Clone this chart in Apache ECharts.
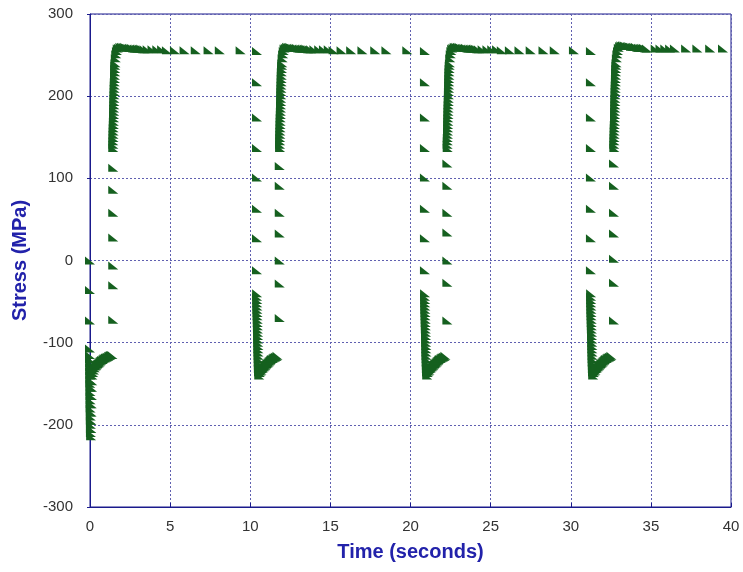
<!DOCTYPE html>
<html>
<head>
<meta charset="utf-8">
<script src="https://cdn.jsdelivr.net/npm/echarts@6/dist/echarts.min.js"></script>
<style>html,body{margin:0;padding:0;background:#fff}#c{width:743px;height:572px}</style>
</head>
<body>
<div id="c"></div>
<script>
// Data: [time (s), stress (MPa)]
const cycle1 = [
  [0,0],[0,-36],[0,-73],[0,-107],
  [0.0,-115],[0.0,-120],[0.01,-125],[0.01,-130],[0.01,-135],[0.02,-140],[0.02,-145],[0.02,-150],[0.03,-155],[0.03,-160],[0.03,-165],[0.04,-170],[0.04,-175],[0.04,-180],[0.05,-185],[0.05,-190],[0.05,-195],[0.06,-200],[0.06,-205],[0.06,-210],[0.07,-214],
  [0.08,-205],[0.09,-195],[0.1,-185],[0.11,-175],[0.12,-165],[0.13,-155],[0.14,-147],
  [0.15,-140],[0.2,-137],[0.25,-134],[0.3,-131],[0.35,-129],[0.4,-128],[0.45,-127],[0.5,-126],[0.55,-125],[0.6,-124],[0.65,-123],[0.7,-122],[0.75,-121],[0.8,-121],[0.85,-120],[0.9,-119],[0.95,-119],[1.0,-118],[1.05,-118],[1.1,-117],[1.15,-117],[1.2,-116],[1.25,-116],[1.3,-115],[1.35,-115],[1.4,-115],
  [1.45,-72],[1.45,-30],[1.45,-6],[1.45,28],[1.45,58],[1.45,86],[1.45,113],
  [1.45,137],[1.46,141],[1.46,145],[1.47,149],[1.47,153],[1.48,157],[1.48,161],[1.49,165],[1.49,169],[1.5,173],[1.5,177],[1.51,181],[1.51,185],[1.52,189],[1.52,193],[1.53,197],[1.53,201],[1.54,205],[1.54,209],[1.55,213],[1.55,217],[1.56,221],[1.56,225],[1.57,229],[1.57,233],[1.58,237],[1.59,240],[1.61,246],[1.64,251],[1.68,255],[1.73,258],[1.8,259],[1.9,260],[2.0,260],[2.1,260],[2.2,260],[2.3,259],[2.4,259],[2.5,259],[2.6,259],[2.7,258],[2.8,258],[2.9,258],[3.0,258],[3.1,258],[3.2,258],[3.3,257],[3.4,257],
  [3.6,257],[3.9,257],[4.2,257],[4.5,257],[4.8,256],
  [5.3,256],[5.9,256],[6.6,256],[7.4,256],[8.1,256],[9.4,256]
];
const cycle2 = [
  [10.42,255],[10.42,217],[10.42,174],[10.42,137],[10.42,101],[10.42,63],[10.42,27],[10.42,-12],
  [10.43,-40],[10.43,-44],[10.44,-48],[10.44,-52],[10.45,-56],[10.45,-60],[10.46,-64],[10.46,-68],[10.47,-72],[10.47,-76],[10.48,-80],[10.48,-84],[10.49,-88],[10.49,-92],[10.5,-96],[10.5,-100],[10.51,-104],[10.51,-108],[10.52,-112],[10.52,-116],[10.53,-120],[10.53,-124],[10.54,-128],[10.54,-132],[10.55,-136],[10.56,-140],
  [10.6,-137],[10.65,-135],[10.7,-134],[10.75,-132],[10.8,-131],[10.85,-130],[10.9,-129],[10.95,-128],[11.0,-127],[11.05,-126],[11.1,-125],[11.15,-124],[11.2,-123],[11.25,-122],[11.3,-121],[11.35,-120],[11.4,-120],[11.45,-119],[11.5,-118],[11.55,-118],[11.6,-117],[11.65,-117],[11.7,-116],
  [11.84,-70],[11.84,-28],[11.84,0],[11.84,33],[11.84,58],[11.84,91],[11.84,115],
  [11.86,137],[11.86,141],[11.87,145],[11.87,149],[11.88,153],[11.88,157],[11.89,161],[11.89,165],[11.9,169],[11.9,173],[11.91,177],[11.91,181],[11.92,185],[11.92,189],[11.93,193],[11.93,197],[11.94,201],[11.94,205],[11.95,209],[11.95,213],[11.96,217],[11.96,221],[11.97,225],[11.97,229],[11.98,233],[11.99,237],[12.0,240],[12.02,246],[12.05,251],[12.09,255],[12.14,258],[12.22,259],[12.3,260],[12.4,260],[12.5,260],[12.6,259],[12.7,259],[12.8,259],[12.9,259],[13.0,258],[13.1,258],[13.2,258],[13.3,258],[13.4,258],[13.5,258],[13.6,257],[13.7,257],[13.8,257],
  [14.0,257],[14.3,257],[14.6,257],[14.9,257],[15.2,256],
  [15.7,256],[16.3,256],[17.0,256],[17.8,256],[18.5,256],[19.8,256]
];
const cycle3 = [
  [20.9,255],[20.9,217],[20.9,174],[20.9,137],[20.9,101],[20.9,63],[20.9,27],[20.9,-12],
  [20.91,-40],[20.91,-44],[20.92,-48],[20.92,-52],[20.93,-56],[20.93,-60],[20.94,-64],[20.94,-68],[20.95,-72],[20.95,-76],[20.96,-80],[20.96,-84],[20.97,-88],[20.97,-92],[20.98,-96],[20.98,-100],[20.99,-104],[20.99,-108],[21.0,-112],[21.0,-116],[21.01,-120],[21.01,-124],[21.02,-128],[21.02,-132],[21.03,-136],[21.04,-140],
  [21.08,-137],[21.13,-135],[21.18,-134],[21.23,-132],[21.28,-131],[21.33,-130],[21.38,-129],[21.43,-128],[21.48,-127],[21.53,-126],[21.58,-125],[21.63,-124],[21.68,-123],[21.73,-122],[21.78,-121],[21.83,-120],[21.88,-120],[21.93,-119],[21.98,-118],[22.03,-118],[22.08,-117],[22.13,-117],[22.18,-116],
  [22.3,-73],[22.3,-27],[22.3,0],[22.3,34],[22.3,58],[22.3,91],[22.3,118],
  [22.32,137],[22.32,141],[22.33,145],[22.33,149],[22.34,153],[22.34,157],[22.35,161],[22.35,165],[22.36,169],[22.36,173],[22.37,177],[22.37,181],[22.38,185],[22.38,189],[22.39,193],[22.39,197],[22.4,201],[22.4,205],[22.41,209],[22.41,213],[22.42,217],[22.42,221],[22.43,225],[22.43,229],[22.44,233],[22.45,237],[22.46,240],[22.48,246],[22.51,251],[22.55,255],[22.6,258],[22.68,259],[22.76,260],[22.86,260],[22.96,260],[23.06,260],[23.16,259],[23.26,259],[23.36,259],[23.46,259],[23.56,258],[23.66,258],[23.76,258],[23.86,258],[23.96,258],[24.06,258],[24.16,257],[24.26,257],
  [24.5,257],[24.8,257],[25.1,257],[25.4,257],[25.7,256],
  [26.2,256],[26.8,256],[27.5,256],[28.3,256],[29.0,256],[30.2,256]
];
const cycle4 = [
  [31.26,255],[31.26,217],[31.26,174],[31.26,137],[31.26,101],[31.26,63],[31.26,27],[31.26,-12],
  [31.27,-40],[31.27,-44],[31.28,-48],[31.28,-52],[31.29,-56],[31.29,-60],[31.3,-64],[31.3,-68],[31.31,-72],[31.31,-76],[31.32,-80],[31.32,-84],[31.33,-88],[31.33,-92],[31.34,-96],[31.34,-100],[31.35,-104],[31.35,-108],[31.36,-112],[31.36,-116],[31.37,-120],[31.37,-124],[31.38,-128],[31.38,-132],[31.39,-136],[31.4,-140],
  [31.44,-137],[31.49,-135],[31.54,-134],[31.59,-132],[31.64,-131],[31.69,-130],[31.74,-129],[31.79,-128],[31.84,-127],[31.89,-126],[31.94,-125],[31.99,-124],[32.04,-123],[32.09,-122],[32.14,-121],[32.19,-120],[32.24,-120],[32.29,-119],[32.34,-118],[32.39,-118],[32.44,-117],[32.49,-117],[32.54,-116],
  [32.7,-73],[32.7,-27],[32.7,2],[32.7,33],[32.7,58],[32.7,91],[32.7,118],
  [32.72,137],[32.72,141],[32.73,145],[32.73,149],[32.74,153],[32.74,157],[32.75,161],[32.75,165],[32.76,169],[32.76,173],[32.77,177],[32.77,181],[32.78,185],[32.78,189],[32.79,193],[32.79,197],[32.8,201],[32.8,205],[32.81,209],[32.81,213],[32.82,217],[32.82,221],[32.83,225],[32.83,229],[32.84,233],[32.85,237],[32.86,240],[32.88,246],[32.91,251],[32.95,255],[33.0,259],[33.08,261],[33.16,262],[33.26,262],[33.36,262],[33.46,261],[33.56,261],[33.66,261],[33.76,260],[33.86,260],[33.96,260],[34.06,260],[34.16,259],[34.26,259],[34.36,259],[34.46,259],[34.56,259],[34.66,258],[34.76,258],
  [35.3,258],[35.6,258],[35.9,258],[36.2,258],[36.5,258],
  [37.2,258],[37.9,258],[38.7,258],[39.5,258]
];
const xTicks = {min: 0, max: 40, step: 5};
const yTicks = {min: -300, max: 300, step: 100};

const chart = echarts.init(document.getElementById('c'), null, {renderer: 'canvas'});
const axisColor = '#1a1a8c';
const gridLine = {show: true, lineStyle: {color: '#6060b0', type: [2, 2], width: 1}};
const titleStyle = {color: '#2222aa', fontSize: 20, fontWeight: 'bold', fontFamily: 'Liberation Sans, Arial, sans-serif'};
const labelStyle = {color: '#333333', fontSize: 15, fontFamily: 'Liberation Sans, Arial, sans-serif'};
chart.setOption({
  animation: false,
  backgroundColor: '#ffffff',
  grid: {left: 90, right: 12, top: 14, bottom: 65, show: true, borderColor: axisColor, borderWidth: 1, containLabel: false},
  xAxis: {
    type: 'value', min: xTicks.min, max: xTicks.max, interval: xTicks.step,
    name: 'Time (seconds)', nameLocation: 'middle', nameGap: 35, nameTextStyle: titleStyle,
    axisLine: {show: true, onZero: false, lineStyle: {color: axisColor, width: 1}},
    axisTick: {show: true, inside: true, length: 4, lineStyle: {color: axisColor}},
    axisLabel: Object.assign({margin: 12}, labelStyle),
    splitLine: gridLine
  },
  yAxis: {
    type: 'value', min: yTicks.min, max: yTicks.max, interval: yTicks.step,
    name: 'Stress (MPa)', nameLocation: 'middle', nameGap: 60, nameRotate: 90, nameTextStyle: titleStyle,
    axisLine: {show: true, onZero: false, lineStyle: {color: axisColor, width: 1}},
    axisTick: {show: true, inside: false, length: 3, lineStyle: {color: axisColor}},
    axisLabel: Object.assign({margin: 17}, labelStyle),
    splitLine: gridLine
  },
  series: [{
    type: 'scatter',
    symbol: 'path://M0,0 L0,10 L11,10 Z',
    symbolSize: [10, 8],
    itemStyle: {color: '#15601f', opacity: 1},
    data: cycle1.concat(cycle2, cycle3, cycle4),
    large: false
  }]
});
</script>
</body>
</html>
